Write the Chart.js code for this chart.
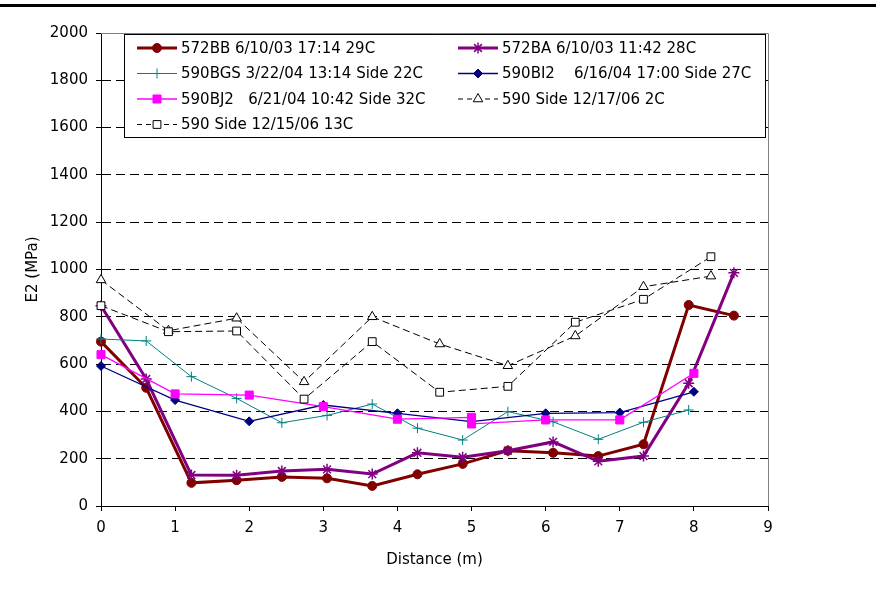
<!DOCTYPE html>
<html>
<head>
<meta charset="utf-8">
<title>E2 vs Distance</title>
<script src="https://cdn.jsdelivr.net/npm/chart.js@4.4.1/dist/chart.umd.min.js"></script>
<style>
  html, body { margin: 0; padding: 0; background: #fff; }
  #wrap { width: 876px; height: 591px; }
</style>
</head>
<body>
<div id="wrap"><canvas id="e2Chart" width="876" height="591"></canvas></div>
<script>
// Data
const dist2ft = [0, 0.61, 1.22, 1.83, 2.44, 3.05, 3.66, 4.27, 4.88, 5.49, 6.10, 6.71, 7.32, 7.93, 8.54];
const dist3ft = [0, 0.91, 1.83, 2.74, 3.66, 4.57, 5.49, 6.40, 7.32, 8.23];
const distBI2 = [0, 1, 2, 3, 4, 5, 6, 7, 8];
const distBJ2 = [0, 1, 2, 3, 4, 5, 5, 6, 7, 8];

const e2_572BB = [695, 500, 98, 109, 123, 117, 85, 134, 178, 234, 225, 211, 261, 850, 805];
const e2_572BA = [847, 537, 131, 130, 148, 155, 135, 225, 206, 234, 271, 189, 211, 519, 986];
const e2_590BGS = [706, 698, 547, 455, 352, 383, 431, 329, 279, 399, 356, 282, 354, 406];
const e2_590BI2 = [592, 448, 358, 427, 392, 357, 392, 395, 483];
const e2_590BJ2 = [640, 474, 469, 420, 367, 375, 347, 364, 364, 561];
const e2_side2C = [956, 741, 794, 525, 800, 685, 593, 719, 927, 972];
const e2_side13C = [847, 737, 740, 452, 695, 481, 506, 777, 874, 1054];

const seriesLabels = [
    '572BB 6/10/03 17:14 29C',
    '572BA 6/10/03 11:42 28C',
    '590BGS 3/22/04 13:14 Side 22C',
    '590BI2    6/16/04 17:00 Side 27C',
    '590BJ2   6/21/04 10:42 Side 32C',
    '590 Side 12/17/06 2C',
    '590 Side 12/15/06 13C'
];

const yTicks = [0, 200, 400, 600, 800, 1000, 1200, 1400, 1600, 1800, 2000];
const xTicks = [0, 1, 2, 3, 4, 5, 6, 7, 8, 9];

function pts(xs, ys) {
    return ys.map((y, i) => ({ x: xs[i], y: y }));
}

Chart.defaults.font.family = "'DejaVu Sans', 'Liberation Sans', sans-serif";
Chart.defaults.font.size = 15;
Chart.defaults.color = '#000';

const datasets = [
    {
        label: seriesLabels[0], data: pts(dist2ft, e2_572BB),
        borderColor: '#800000', borderWidth: 3,
        pointStyle: 'circle', pointRadius: 4.5,
        pointBackgroundColor: '#800000', pointBorderColor: '#800000', pointBorderWidth: 1
    },
    {
        label: seriesLabels[1], data: pts(dist2ft, e2_572BA),
        borderColor: '#800080', borderWidth: 3,
        pointStyle: 'star', pointRadius: 5.5,
        pointBackgroundColor: '#800080', pointBorderColor: '#800080', pointBorderWidth: 1.5
    },
    {
        label: seriesLabels[2], data: pts(dist2ft, e2_590BGS),
        borderColor: '#008080', borderWidth: 1,
        pointStyle: 'cross', pointRadius: 5,
        pointBackgroundColor: '#008080', pointBorderColor: '#008080', pointBorderWidth: 1
    },
    {
        label: seriesLabels[3], data: pts(distBI2, e2_590BI2),
        borderColor: '#000080', borderWidth: 1.3,
        pointStyle: 'rectRot', pointRadius: 4.5,
        pointBackgroundColor: '#000080', pointBorderColor: '#000080', pointBorderWidth: 1
    },
    {
        label: seriesLabels[4], data: pts(distBJ2, e2_590BJ2),
        borderColor: '#FF00FF', borderWidth: 1.3,
        pointStyle: 'rect', pointRadius: 5.7,
        pointBackgroundColor: '#FF00FF', pointBorderColor: '#FF00FF', pointBorderWidth: 1
    },
    {
        label: seriesLabels[5], data: pts(dist3ft, e2_side2C),
        borderColor: '#000', borderWidth: 1, borderDash: [7, 4],
        pointStyle: 'triangle', pointRadius: 5.5,
        pointBackgroundColor: '#fff', pointBorderColor: '#000', pointBorderWidth: 1
    },
    {
        label: seriesLabels[6], data: pts(dist3ft, e2_side13C),
        borderColor: '#000', borderWidth: 1, borderDash: [7, 4],
        pointStyle: 'rect', pointRadius: 5.5,
        pointBackgroundColor: '#fff', pointBorderColor: '#000', pointBorderWidth: 1
    }
];
// Excel draws later series on top
datasets.forEach((ds, i) => {
    ds.order = datasets.length - i;
    ds.showLine = true;
    ds.fill = false;
    ds.tension = 0;
    ds.clip = false;
});

// frame, top rule and the boxed legend
const excelFrame = {
    id: 'excelFrame',
    beforeDraw(chart) {
        const ctx = chart.ctx;
        ctx.save();
        ctx.fillStyle = '#000';
        ctx.fillRect(0, 4, chart.width, 3);
        ctx.restore();
    },
    afterDatasetsDraw(chart) {
        const ctx = chart.ctx;
        const a = chart.chartArea;
        ctx.save();
        ctx.strokeStyle = '#808080';
        ctx.lineWidth = 1;
        ctx.beginPath();
        ctx.moveTo(a.left, a.top + 0.5);
        ctx.lineTo(Math.round(a.right) + 0.5, a.top + 0.5);
        ctx.lineTo(Math.round(a.right) + 0.5, a.bottom);
        ctx.stroke();

        // legend box
        const box = { x: 124.5, y: 34.5, w: 641, h: 103 };
        ctx.fillStyle = '#fff';
        ctx.fillRect(box.x, box.y, box.w, box.h);
        ctx.strokeStyle = '#000';
        ctx.strokeRect(box.x, box.y, box.w, box.h);

        const colX = [137, 458];
        const rowY = [48, 73.5, 99, 124.5];
        const sampleLen = 40;
        ctx.font = "15px 'DejaVu Sans', 'Liberation Sans', sans-serif";
        ctx.textBaseline = 'middle';
        ctx.textAlign = 'left';
        chart.data.datasets.forEach((ds, i) => {
            const x0 = colX[i % 2];
            const y0 = rowY[Math.floor(i / 2)];
            ctx.save();
            ctx.strokeStyle = ds.borderColor;
            ctx.lineWidth = ds.borderWidth;
            ctx.setLineDash(ds.borderDash ? [5, 4] : []);
            ctx.beginPath();
            ctx.moveTo(x0, y0);
            ctx.lineTo(x0 + sampleLen, y0);
            ctx.stroke();
            ctx.setLineDash([]);
            ctx.fillStyle = ds.pointBackgroundColor;
            ctx.strokeStyle = ds.pointBorderColor;
            ctx.lineWidth = ds.pointBorderWidth;
            Chart.helpers.drawPoint(ctx, {
                pointStyle: ds.pointStyle,
                radius: ds.pointRadius,
                borderWidth: ds.pointBorderWidth,
                rotation: 0
            }, x0 + sampleLen / 2, y0);
            ctx.restore();
            ctx.fillStyle = '#000';
            ctx.fillText(ds.label, x0 + sampleLen + 4, y0 + 1);
        });
        ctx.restore();
    }
};

new Chart(document.getElementById('e2Chart'), {
    type: 'scatter',
    data: { datasets: datasets },
    options: {
        responsive: false,
        animation: false,
        layout: { padding: { left: 0, right: 108, top: 33, bottom: 18 } },
        plugins: {
            legend: { display: false },
            tooltip: { enabled: false }
        },
        scales: {
            x: {
                type: 'linear',
                min: xTicks[0],
                max: xTicks[xTicks.length - 1],
                afterBuildTicks: (scale) => { scale.ticks = xTicks.map(v => ({ value: v })); },
                afterFit: (scale) => { scale.height = 67; },
                ticks: { padding: 8, font: { size: 15 }, color: '#000', callback: (v) => String(v) },
                grid: {
                    drawOnChartArea: false,
                    drawTicks: true,
                    tickLength: 5,
                    tickColor: '#000',
                    color: '#000'
                },
                border: { display: true, color: '#000', width: 1 },
                title: {
                    display: true,
                    text: 'Distance (m)',
                    font: { size: 15 },
                    color: '#000',
                    padding: { top: 0, bottom: 4 }
                }
            },
            y: {
                type: 'linear',
                min: yTicks[0],
                max: yTicks[yTicks.length - 1],
                afterBuildTicks: (scale) => { scale.ticks = yTicks.map(v => ({ value: v })); },
                afterFit: (scale) => { scale.width = 101; },
                ticks: { padding: 8, font: { size: 15 }, color: '#000', callback: (v) => String(v) },
                grid: {
                    drawTicks: true,
                    tickLength: 5,
                    tickColor: '#000',
                    tickBorderDash: [],
                    color: (ctx) => (ctx.tick && (ctx.tick.value === 0 || ctx.tick.value === 2000)) ? 'rgba(0,0,0,0)' : '#000',
                    lineWidth: 1
                },
                border: { display: true, color: '#000', width: 1, dash: [9, 5] },
                title: {
                    display: true,
                    text: 'E2 (MPa)',
                    font: { size: 15 },
                    color: '#000',
                    padding: { top: 24, bottom: 0 }
                }
            }
        }
    },
    plugins: [excelFrame]
});
</script>
</body>
</html>
